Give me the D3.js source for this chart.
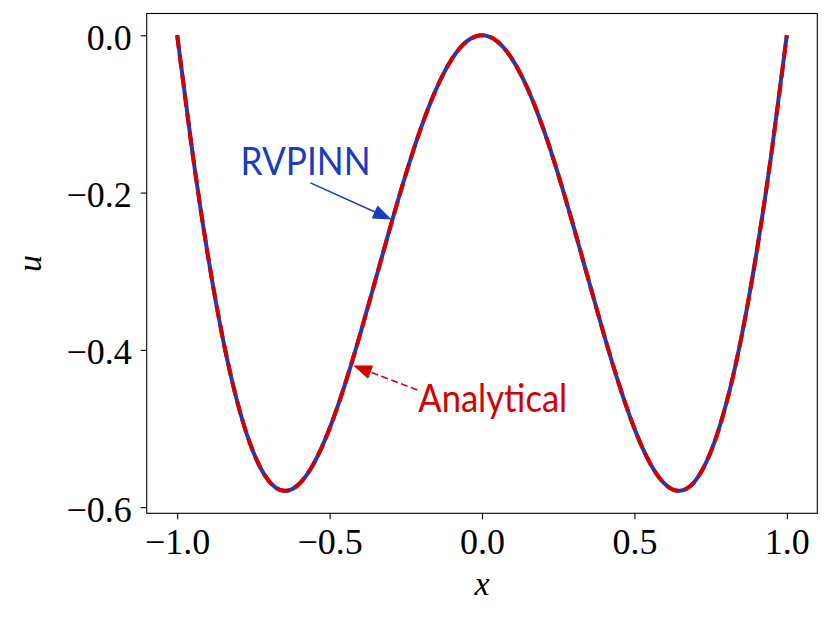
<!DOCTYPE html>
<html>
<head>
<meta charset="utf-8">
<script src="https://cdn.jsdelivr.net/npm/d3@7"></script>
<style>
  html, body { margin: 0; padding: 0; background: #fff; }
  svg { display: block; }
</style>
</head>
<body>
<svg id="chart" width="831" height="618"></svg>
<script>
// ---- data ----
const xValues = [-1.00,-0.95,-0.90,-0.85,-0.80,-0.75,-0.70,-0.65,-0.60,-0.55,-0.50,-0.45,-0.40,-0.35,-0.30,-0.25,-0.20,-0.15,-0.10,-0.05,
                  0.00, 0.05, 0.10, 0.15, 0.20, 0.25, 0.30, 0.35, 0.40, 0.45, 0.50, 0.55, 0.60, 0.65, 0.70, 0.75, 0.80, 0.85, 0.90, 0.95, 1.00];
const rvpinnValues = [0,-0.1486,-0.2781,-0.3859,-0.4702,-0.5303,-0.5663,-0.5792,-0.5706,-0.5432,-0.5000,-0.4445,-0.3804,-0.3119,-0.2427,-0.1768,-0.1176,-0.0681,-0.0309,-0.0078,
                      0,-0.0078,-0.0309,-0.0681,-0.1176,-0.1768,-0.2427,-0.3119,-0.3804,-0.4445,-0.5000,-0.5432,-0.5706,-0.5792,-0.5663,-0.5303,-0.4702,-0.3859,-0.2781,-0.1486,0];
const analyticalValues = [0,-0.1486,-0.2781,-0.3859,-0.4702,-0.5303,-0.5663,-0.5792,-0.5706,-0.5432,-0.5000,-0.4445,-0.3804,-0.3119,-0.2427,-0.1768,-0.1176,-0.0681,-0.0309,-0.0078,
                          0,-0.0078,-0.0309,-0.0681,-0.1176,-0.1768,-0.2427,-0.3119,-0.3804,-0.4445,-0.5000,-0.5432,-0.5706,-0.5792,-0.5663,-0.5303,-0.4702,-0.3859,-0.2781,-0.1486,0];
const xTicks = [-1.0, -0.5, 0.0, 0.5, 1.0];
const yTicks = [0.0, -0.2, -0.4, -0.6];
const xDomain = [-1.1, 1.1];
const yDomain = [-0.6078, 0.0277];
const xLabel = "x";
const yLabel = "u";
// annotations: label, text anchor (x,u), arrow tail (x,u), arrow tip (x,u)
const annotationLabels = ["RVPINN", "Analytical"];
const annotationText = [[-0.792, -0.1776], [-0.209, -0.479]];
const annotationTail = [[-0.563, -0.1877], [-0.212, -0.451]];
const annotationTip  = [[-0.300, -0.2336], [-0.419, -0.4205]];

// ---- layout ----
const plot = { left: 146.7, right: 817.3, top: 13.5, bottom: 513.3 };
const blue = "#1a3cbf", red = "#d20000";
const tickFont = "'Liberation Serif', 'Times New Roman', serif";
const annFont = "Lato, 'DejaVu Sans', sans-serif";

const svg = d3.select("#chart");
const x = d3.scaleLinear().domain(xDomain).range([plot.left, plot.right]);
const y = d3.scaleLinear().domain(yDomain).range([plot.bottom, plot.top]);

const fmt = v => (v < 0 ? "\u2212" : "") + Math.abs(v).toFixed(1);

// clip
svg.append("defs").append("clipPath").attr("id", "clip")
  .append("rect").attr("x", plot.left).attr("y", plot.top)
  .attr("width", plot.right - plot.left).attr("height", plot.bottom - plot.top);

// lines
const line = d3.line().x(d => x(d[0])).y(d => y(d[1])).curve(d3.curveNatural);
const g = svg.append("g").attr("clip-path", "url(#clip)");
g.append("path").datum(xValues.map((v, i) => [v, rvpinnValues[i]]))
  .attr("d", line).attr("fill", "none").attr("stroke", blue).attr("stroke-width", 4);
g.append("path").datum(xValues.map((v, i) => [v, analyticalValues[i]]))
  .attr("d", line).attr("fill", "none").attr("stroke", red).attr("stroke-width", 4)
  .attr("stroke-dasharray", "13.5,6");

// axes
const xAxis = d3.axisBottom(x).tickValues(xTicks).tickFormat(fmt).tickSize(6).tickPadding(6);
const yAxis = d3.axisLeft(y).tickValues(yTicks).tickFormat(fmt).tickSize(6).tickPadding(9);
const gx = svg.append("g").attr("transform", `translate(0,${plot.bottom})`).call(xAxis);
const gy = svg.append("g").attr("transform", `translate(${plot.left},0)`).call(yAxis);
[gx, gy].forEach(a => {
  a.select(".domain").remove();
  a.selectAll(".tick line").attr("stroke", "#000").attr("stroke-width", 1.1);
  a.selectAll(".tick text").attr("fill", "#000").style("font-family", tickFont).style("font-size", "36px");
});
gx.selectAll(".tick text").attr("dy", null).attr("y", 41);
gy.selectAll(".tick text").attr("dy", null).attr("y", 14);

// frame
svg.append("rect").attr("x", plot.left).attr("y", plot.top)
  .attr("width", plot.right - plot.left).attr("height", plot.bottom - plot.top)
  .attr("fill", "none").attr("stroke", "#000").attr("stroke-width", 1.1);

// axis labels
svg.append("text").attr("x", (plot.left + plot.right) / 2).attr("y", 595)
  .attr("text-anchor", "middle").style("font-family", tickFont).style("font-style", "italic")
  .style("font-size", "34px").text(xLabel);
svg.append("text").attr("transform", `translate(41,${(plot.top + plot.bottom) / 2}) rotate(-90)`)
  .attr("text-anchor", "middle").style("font-family", tickFont).style("font-style", "italic")
  .style("font-size", "34px").text(yLabel);

// annotations
const annColors = [blue, red];
const annDash = [null, "7,3.5"];
const annWidths = [130, 149];
annotationLabels.forEach((lab, i) => {
  const c = annColors[i];
  const tx = x(annotationTail[i][0]), ty = y(annotationTail[i][1]);
  const hx = x(annotationTip[i][0]), hy = y(annotationTip[i][1]);
  const dx = hx - tx, dy = hy - ty, len = Math.hypot(dx, dy);
  const ux = dx / len, uy = dy / len;
  const hl = 17, hw = 6.5;
  const bx = hx - ux * hl, by = hy - uy * hl;
  svg.append("line").attr("x1", tx).attr("y1", ty).attr("x2", bx).attr("y2", by)
    .attr("stroke", c).attr("stroke-width", 1.5).attr("stroke-dasharray", annDash[i]);
  svg.append("path")
    .attr("d", `M${hx},${hy}L${bx - uy * hw},${by + ux * hw}L${bx + uy * hw},${by - ux * hw}Z`)
    .attr("fill", c).attr("stroke", c).attr("stroke-width", 1);
  svg.append("text").attr("x", x(annotationText[i][0])).attr("y", y(annotationText[i][1]))
    .style("font-family", annFont).style("font-size", "38px").attr("fill", c)
    .attr("textLength", annWidths[i]).attr("lengthAdjust", "spacingAndGlyphs")
    .text(lab);
});
</script>
</body>
</html>
